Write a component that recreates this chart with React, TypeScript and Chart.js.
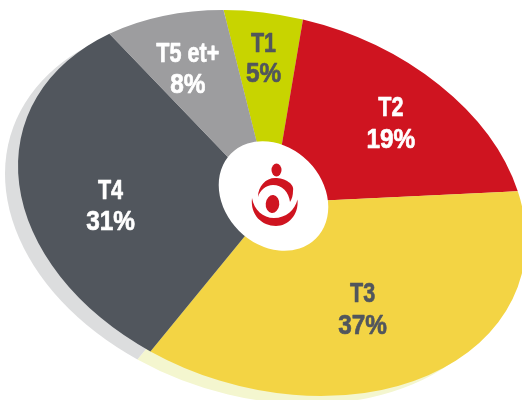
import React, { useEffect, useRef } from "react";
import { Chart, registerables } from "chart.js";

Chart.register(...registerables);

const categories = ["T1", "T2", "T3", "T4", "T5 et+"];
const shares = [5, 19, 37, 31, 8];
const sliceColors = ["#c8d400", "#cf1420", "#f3d444", "#51565d", "#9d9d9f"];
const shadowColors = ["#dcddde", "#dcddde", "#f4f6cf", "#dcddde", "#dcddde"];
const labelColors = ["#51565d", "#ffffff", "#51565d", "#ffffff", "#ffffff"];
const labelRadius = [0.765, 0.699, 0.6, 0.65, 0.73];
const labelAngleNudge = [-0.5, 0.83, 1.5, -6.4, -1.6];
const labelPitch = [30, 32, 32, 31, 31];

const W = 522;
const H = 400;
const CENTER_X = 272;
const CENTER_Y = 203;
const AXIS_X = 254;
const SHEAR_Y = 37.2;
const AXIS_Y = 189.4;
const SHADOW_DX = -13;
const SHADOW_DY = 8;
const FONT = "bold 28px 'Liberation Sans', sans-serif";
const NAME_SQUEEZE = 0.77;
const VALUE_SQUEEZE = 0.87;

function applyEllipse(ctx: any, arc: any, dx = 0, dy = 0) {
  const R = arc.outerRadius;
  const a = AXIS_X / R;
  const b = SHEAR_Y / R;
  const d = AXIS_Y / R;
  ctx.transform(a, b, 0, d, CENTER_X + dx - a * arc.x, CENTER_Y + dy - b * arc.x - d * arc.y);
}

function squeezedText(ctx: any, text: string, x: number, y: number, sx: number) {
  ctx.save();
  ctx.translate(x, y);
  ctx.scale(sx, 1);
  ctx.fillText(text, 0, 0);
  ctx.strokeText(text, 0, 0);
  ctx.restore();
}

const ellipsePie = {
  id: "ellipsePie",
  beforeDatasetsDraw(chart: any) {
    const ctx = chart.ctx;
    const arcs = chart.getDatasetMeta(0).data;
    arcs.forEach((arc: any, i: number) => {
      ctx.save();
      applyEllipse(ctx, arc, SHADOW_DX, SHADOW_DY);
      ctx.fillStyle = shadowColors[i];
      ctx.beginPath();
      ctx.moveTo(arc.x, arc.y);
      ctx.arc(arc.x, arc.y, arc.outerRadius, arc.startAngle, arc.endAngle);
      ctx.closePath();
      ctx.fill();
      ctx.restore();
    });
    ctx.save();
    applyEllipse(ctx, arcs[0]);
  },
  afterDatasetsDraw(chart: any) {
    const ctx = chart.ctx;
    ctx.restore();
    const arcs = chart.getDatasetMeta(0).data;

    ctx.save();
    ctx.fillStyle = "#ffffff";
    ctx.beginPath();
    ctx.ellipse(273.5, 196, 60, 49, Math.PI / 4, 0, Math.PI * 2);
    ctx.fill();

    ctx.fillStyle = "#cf1420";
    ctx.beginPath();
    ctx.ellipse(276.5, 170, 5, 6.5, 0, 0, Math.PI * 2);
    ctx.fill();
    ctx.beginPath();
    ctx.ellipse(272.5, 204, 6.8, 9, 0.1, 0, Math.PI * 2);
    ctx.fill();
    ctx.beginPath();
    ctx.moveTo(258, 197);
    ctx.bezierCurveTo(258, 186, 266, 178, 275, 178);
    ctx.bezierCurveTo(285, 178, 295, 184, 293, 191);
    ctx.bezierCurveTo(293, 195, 292, 199, 290, 202);
    ctx.bezierCurveTo(289, 192, 282, 185, 273, 185);
    ctx.bezierCurveTo(266, 185, 260, 190, 258, 197);
    ctx.fill();
    ctx.beginPath();
    ctx.moveTo(252, 198);
    ctx.bezierCurveTo(250, 215, 262, 226, 276, 226);
    ctx.bezierCurveTo(288, 226, 299, 215, 297.5, 199.5);
    ctx.bezierCurveTo(295, 210, 286, 218, 274, 218);
    ctx.bezierCurveTo(263, 218, 254, 210, 252, 198);
    ctx.fill();

    ctx.font = FONT;
    ctx.textAlign = "center";
    ctx.textBaseline = "alphabetic";
    ctx.lineWidth = 0.7;
    ctx.lineJoin = "round";
    arcs.forEach((arc: any, i: number) => {
      const mid = (arc.startAngle + arc.endAngle) / 2 + (labelAngleNudge[i] * Math.PI) / 180;
      const u = Math.cos(mid) * labelRadius[i];
      const v = Math.sin(mid) * labelRadius[i];
      const x = CENTER_X + AXIS_X * u;
      const y = CENTER_Y + SHEAR_Y * u + AXIS_Y * v;
      ctx.fillStyle = labelColors[i];
      ctx.strokeStyle = labelColors[i];
      squeezedText(ctx, categories[i], x, y + 10 - labelPitch[i] / 2, NAME_SQUEEZE);
      squeezedText(ctx, shares[i] + "%", x, y + 10 + labelPitch[i] / 2, VALUE_SQUEEZE);
    });
    ctx.restore();
  },
};

export default function App() {
  const ref = useRef<HTMLCanvasElement>(null);
  useEffect(() => {
    const chart = new Chart(ref.current as HTMLCanvasElement, {
      type: "pie",
      data: {
        labels: categories,
        datasets: [
          {
            data: shares,
            backgroundColor: sliceColors,
            borderWidth: 0,
            clip: false,
          } as any,
        ],
      },
      options: {
        responsive: false,
        animation: false,
        devicePixelRatio: 1,
        rotation: -11,
        events: [],
        layout: { padding: 0 },
        plugins: { legend: { display: false }, tooltip: { enabled: false } },
      },
      plugins: [ellipsePie],
    });
    return () => chart.destroy();
  }, []);
  return (
    <div style={{ position: "fixed", left: 0, top: 0, width: W, height: H, background: "#fff" }}>
      <canvas ref={ref} width={W} height={H} style={{ display: "block" }} />
    </div>
  );
}
